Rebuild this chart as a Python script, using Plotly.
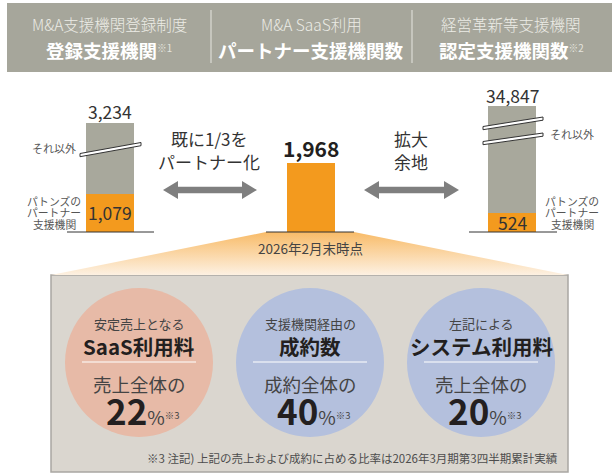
import plotly.graph_objects as go

# ---------------- data ----------------
bar_names = ["登録支援機関", "パートナー支援機関", "認定支援機関"]
totals = [3234, 1968, 34847]
partners = [1079, 1968, 524]
hidden_by_break = [128, 0, 31256]   # part of "それ以外" hidden by the break marks

header_top = ["M&A支援機関登録制度", "M&A SaaS利用", "経営革新等支援機関"]
header_main = ["登録支援機関", "パートナー支援機関数", "認定支援機関数"]
header_note = ["※1", "", "※2"]

circle_lead = ["安定売上となる", "支援機関経由の", "左記による"]
circle_title = ["SaaS利用料", "成約数", "システム利用料"]
circle_sub = ["売上全体の", "成約全体の", "売上全体の"]
circle_pct = [22, 40, 20]

date_label = "2026年2月末時点"
footnote = "※3 注記) 上記の売上および成約に占める比率は2026年3月期第3四半期累計実績"

# ---------------- styles ----------------
FONT = "Noto Sans CJK JP"
ORANGE = "#f39a1e"
GRAY_BAR = "#a8a89c"
BAND = "#a6a69b"
DARK = "#231f20"
MID = "#444444"
W, H = 612, 475
UNIT_PER_PX = 28.5
BASE_PX = 231.7

others_shown = [t - p - h for t, p, h in zip(totals, partners, hidden_by_break)]
shown_total = [p + o for p, o in zip(partners, others_shown)]

fig = go.Figure()

# trapezoid with vertical gradient (pixel axes)
fig.add_trace(go.Scatter(
    x=[266, 354, 568, 51, 266], y=[232, 232, 275, 275, 232],
    mode="lines", line=dict(width=0), fill="toself",
    fillgradient=dict(type="vertical",
                      colorscale=[[0, "#fdf1e2"], [1, "#f8bb68"]]),
    hoverinfo="skip", showlegend=False, xaxis="x", yaxis="y"))

# bars (data axes)
fig.add_trace(go.Bar(x=bar_names, y=partners, marker=dict(color=ORANGE, line=dict(width=0)),
                     width=48 / 201, xaxis="x2", yaxis="y2", showlegend=False, hoverinfo="skip"))
fig.add_trace(go.Bar(x=bar_names, y=others_shown, marker=dict(color=GRAY_BAR, line=dict(width=0)),
                     width=48 / 201, xaxis="x2", yaxis="y2", showlegend=False, hoverinfo="skip"))

shapes = []
annotations = []

def ann(x, y, text, size, color=DARK, bold=False, xanchor="center", weight=None, **kw):
    t = f"<b>{text}</b>" if bold else text
    f = dict(family=FONT, size=size, color=color)
    if weight:
        f["weight"] = weight
    d = dict(x=x, y=y, xref="x", yref="y", text=t, showarrow=False,
             font=f, xanchor=xanchor, yanchor="middle")
    d.update(kw)
    annotations.append(d)

# header band
shapes.append(dict(type="rect", xref="x", yref="y", x0=7, x1=612, y0=3, y1=72,
                   fillcolor=BAND, line=dict(width=0), layer="below"))
for xd in (211, 412):
    shapes.append(dict(type="line", xref="x", yref="y", x0=xd, x1=xd, y0=10, y1=63,
                       line=dict(color="#e6e6e0", width=1)))
for cx, top, main, note in zip((109, 311, 511), header_top, header_main, header_note):
    ann(cx, 24, top, 15.5, color="#ececE6", weight=300)
    sup = f"<span style='font-size:14px;color:#e4e4de'><sup>{note}</sup></span>" if note else ""
    ann(cx, 50, f"<b>{main}</b>{sup}", 18.5, color="#ffffff")

# baselines under bars
for x0, x1 in ((67, 154), (266, 354), (469, 557)):
    shapes.append(dict(type="line", xref="x", yref="y", x0=x0, x1=x1, y0=232, y1=232,
                       line=dict(color="#333333", width=1)))

# break marks
def brk(xl, yl, xr, yr, th=3.2):
    shapes.append(dict(type="path", xref="x", yref="y",
                       path=f"M{xl},{yl} L{xr},{yr} L{xr},{yr+th} L{xl},{yl+th} Z",
                       fillcolor="#ffffff", line=dict(color="#333333", width=1), layer="above"))
brk(80, 153.5, 141, 142.5)
brk(483, 126.5, 543, 117)
brk(483, 141.5, 543, 133)

# arrows
def arrow(xl, xr, y, hl=15, hh=9, sh=3.3):
    pts = [(xl, y), (xl + hl, y - hh), (xl + hl, y - sh),
           (xr - hl, y - sh), (xr - hl, y - hh), (xr, y), (xr - hl, y + hh), (xr - hl, y + sh),
           (xl + hl, y + sh), (xl + hl, y + hh)]
    path = "M" + " L".join(f"{a},{b}" for a, b in pts) + " Z"
    shapes.append(dict(type="path", xref="x", yref="y", path=path,
                       fillcolor="#7f7f7f", line=dict(width=0)))
arrow(163, 257, 190)
arrow(364, 459, 190)

ann(209, 138, "既に1/3を", 17, color="#333333")
ann(209, 161, "パートナー化", 17, color="#333333")
ann(411, 138, "拡大", 17, color="#333333")
ann(411, 161, "余地", 17, color="#333333")

# side labels
for cx, yo in ((54, 148), (572, 134)):
    ann(cx, yo, "それ以外", 11, color="#555555")
for cx in (54, 572):
    for i, line in enumerate(["パトンズの", "パートナー", "支援機関"]):
        ann(cx, 201 + i * 11.3, line, 10.8, color="#555555")

# bar value labels (data axes)
def bar_ann(i, y, text, size, shift, bold=False):
    annotations.append(dict(x=bar_names[i], y=y, xref="x2", yref="y2",
                            text=f"<b>{text}</b>" if bold else text, showarrow=False,
                            font=dict(family=FONT, size=size, color="#333333" if not bold else DARK),
                            xanchor="center", yanchor="middle", yshift=shift))
bar_ann(0, shown_total[0], f"{totals[0]:,}", 17.5, 11.5)
bar_ann(2, shown_total[2], f"{totals[2]:,}", 17.5, 10)
bar_ann(1, shown_total[1], f"{totals[1]:,}", 21, 14.5, bold=True)
bar_ann(0, partners[0] / 2, f"{partners[0]:,}", 17.5, 0)
bar_ann(2, partners[2] / 2, f"{partners[2]:,}", 17.5, 0)

ann(310, 248, date_label, 13.5, color=MID)

# bottom box
shapes.append(dict(type="rect", xref="x", yref="y", x0=51, x1=568, y0=275, y1=472,
                   fillcolor="#dad6cf", line=dict(color="#a9a7a2", width=1.5), layer="below"))
circle_colors = ["#e7baa7", "#b4c0dd", "#b4c0dd"]
for cx, col, lead, title, sub, pct in zip((139, 310, 481), circle_colors,
                                          circle_lead, circle_title, circle_sub, circle_pct):
    shapes.append(dict(type="circle", xref="x", yref="y", x0=cx - 74, x1=cx + 74,
                       y0=288, y1=437, fillcolor=col, line=dict(width=0), layer="below"))
    shapes.append(dict(type="line", xref="x", yref="y", x0=cx - 57, x1=cx + 57, y0=362, y1=362,
                       line=dict(color="#ffffff", width=1.2)))
    ann(cx, 323, lead, 13, color=MID)
    ann(cx, 346, title, 20.5, bold=True)
    ann(cx, 384, sub, 18.5, color=MID)
    ann(cx + 4, 409,
        f"<b><span style='font-size:35px'>{pct}</span></b>"
        f"<span style='font-size:19px;color:#444444'>%</span>"
        f"<span style='font-size:13.5px;color:#444444'><sup>※3</sup></span>",
        19, color=DARK)

ann(560, 458, footnote, 11.5, color="#4d4d4d", xanchor="right")

fig.update_layout(
    width=W, height=H, margin=dict(l=0, r=0, t=0, b=0),
    paper_bgcolor="#ffffff", plot_bgcolor="rgba(0,0,0,0)",
    barmode="stack", bargap=0,
    xaxis=dict(range=[0, W], visible=False, domain=[0, 1], fixedrange=True),
    yaxis=dict(range=[H, 0], visible=False, domain=[0, 1], fixedrange=True),
    xaxis2=dict(type="category", range=[-110 / 201, (W - 110) / 201], visible=False,
                overlaying="x", anchor="y2", fixedrange=True),
    yaxis2=dict(range=[-(H - BASE_PX) * UNIT_PER_PX, BASE_PX * UNIT_PER_PX], visible=False,
                overlaying="y", anchor="x2", fixedrange=True),
    shapes=shapes, annotations=annotations,
    font=dict(family=FONT),
)

fig.write_html("out.html", config={"staticPlot": True},
               post_script="document.body.style.margin='0';document.body.style.overflow='hidden';")
